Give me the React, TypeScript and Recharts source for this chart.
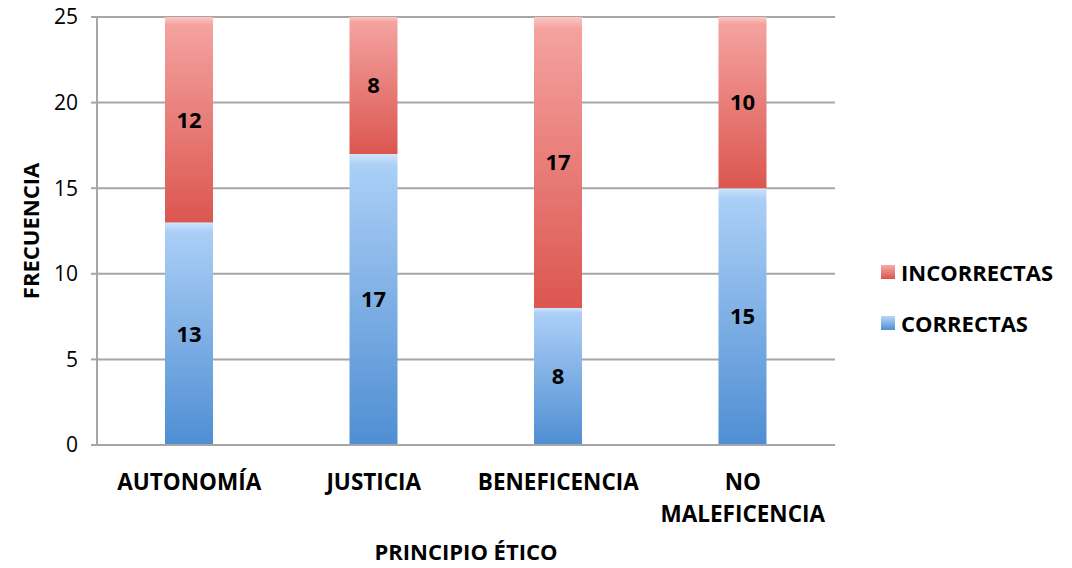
import { BarChart, Bar, XAxis, YAxis, CartesianGrid, Legend, LabelList } from 'recharts';

const categories = ['AUTONOMÍA', 'JUSTICIA', 'BENEFICENCIA', 'NO MALEFICENCIA'];
const correctas = [13, 17, 8, 15];
const incorrectas = [12, 8, 17, 10];
const yTicks = [0, 5, 10, 15, 20, 25];

const data = categories.map((name, i) => ({
  name,
  correctas: correctas[i],
  incorrectas: incorrectas[i],
}));

const FONT = '"Open Sans", sans-serif';
const GRID = '#a6a6a6';
const LEGEND_W = 190;

function CategoryTick({ x, payload }: any) {
  const label: string = payload.value;
  const lines = label.length > 12 ? [label.slice(0, label.indexOf(' ')), label.slice(label.indexOf(' ') + 1)] : [label];
  return (
    <text x={x} y={490} textAnchor="middle" fontFamily={FONT} fontWeight={700} fontSize={22.5} fill="#000">
      {lines.map((l, i) => (
        <tspan key={l} x={x} dy={i === 0 ? 0 : 32}>
          {l}
        </tspan>
      ))}
    </text>
  );
}

function LegendBox({ payload }: any) {
  const items = [...(payload || [])].reverse();
  return (
    <div style={{ fontFamily: FONT }}>
      {items.map((p: any) => (
        <div key={p.value} style={{ display: 'flex', alignItems: 'center', height: 51 }}>
          <svg width={16} height={16} style={{ marginRight: 5 }}>
            <rect x={1} y={1} width={14} height={14} fill={p.dataKey === 'correctas' ? 'url(#gBlueL)' : 'url(#gRedL)'} />
          </svg>
          <span style={{ fontWeight: 700, fontSize: 22, color: '#000' }}>{p.value}</span>
        </div>
      ))}
    </div>
  );
}

export default function App() {
  return (
    <div style={{ position: 'absolute', left: 0, top: 0, width: 1072, height: 568, background: '#fff' }}>
      <svg width={0} height={0} style={{ position: 'absolute' }}>
        <defs>
          <linearGradient id="gBlueL" x1="0" y1="0" x2="0" y2="1">
            <stop offset="0%" stopColor="#b9d8f8" />
            <stop offset="100%" stopColor="#4f8ed3" />
          </linearGradient>
          <linearGradient id="gRedL" x1="0" y1="0" x2="0" y2="1">
            <stop offset="0%" stopColor="#f6aaa7" />
            <stop offset="100%" stopColor="#d9534e" />
          </linearGradient>
        </defs>
      </svg>
      <BarChart
        width={1072}
        height={568}
        data={data}
        margin={{ top: 17, right: 237 - LEGEND_W, left: 0, bottom: 0 }}
        barSize={48}
      >
        <defs>
          <linearGradient id="gBlue" x1="0" y1="0" x2="0" y2="1">
            <stop offset="0%" stopColor="#cfe5fb" />
            <stop offset="4%" stopColor="#abcff6" />
            <stop offset="100%" stopColor="#4f8ed3" />
          </linearGradient>
          <linearGradient id="gRed" x1="0" y1="0" x2="0" y2="1">
            <stop offset="0%" stopColor="#fbc6c3" />
            <stop offset="4%" stopColor="#f4a29f" />
            <stop offset="100%" stopColor="#dc5650" />
          </linearGradient>
        </defs>
        <CartesianGrid vertical={false} stroke={GRID} strokeWidth={2} />
        <XAxis
          dataKey="name"
          height={123}
          tickLine={false}
          axisLine={{ stroke: GRID, strokeWidth: 2 }}
          tick={<CategoryTick />}
          interval={0}
          label={(props: any) => {
            const vb = props.viewBox;
            return (
              <text x={vb.x + vb.width / 2} y={560} textAnchor="middle" fontFamily={FONT} fontWeight={700} fontSize={22} fill="#000">
                PRINCIPIO ÉTICO
              </text>
            );
          }}
        />
        <YAxis
          width={97}
          domain={[0, 25]}
          ticks={yTicks}
          interval={0}
          tickSize={6}
          tickMargin={13}
          tickLine={{ stroke: GRID, strokeWidth: 2 }}
          axisLine={{ stroke: GRID, strokeWidth: 2 }}
          tick={{ fontFamily: FONT, fontSize: 21, fill: '#000' }}
          label={(props: any) => {
            const vb = props.viewBox;
            const cy = vb.y + vb.height / 2;
            return (
              <text x={30} y={cy} transform={`rotate(-90 30 ${cy})`} textAnchor="middle" dominantBaseline="central" fontFamily={FONT} fontWeight={700} fontSize={22} fill="#000">
                FRECUENCIA
              </text>
            );
          }}
        />
        <Legend
          layout="vertical"
          align="right"
          verticalAlign="middle"
          content={<LegendBox />}
          wrapperStyle={{ position: 'absolute', left: 880, top: 246, width: LEGEND_W }}
        />
        <Bar dataKey="correctas" name="CORRECTAS" stackId="a" fill="url(#gBlue)" isAnimationActive={false}>
          <LabelList dataKey="correctas" position="center" fontFamily={FONT} fontWeight={700} fontSize={22} fill="#000" />
        </Bar>
        <Bar dataKey="incorrectas" name="INCORRECTAS" stackId="a" fill="url(#gRed)" isAnimationActive={false}>
          <LabelList dataKey="incorrectas" position="center" fontFamily={FONT} fontWeight={700} fontSize={22} fill="#000" />
        </Bar>
      </BarChart>
    </div>
  );
}
